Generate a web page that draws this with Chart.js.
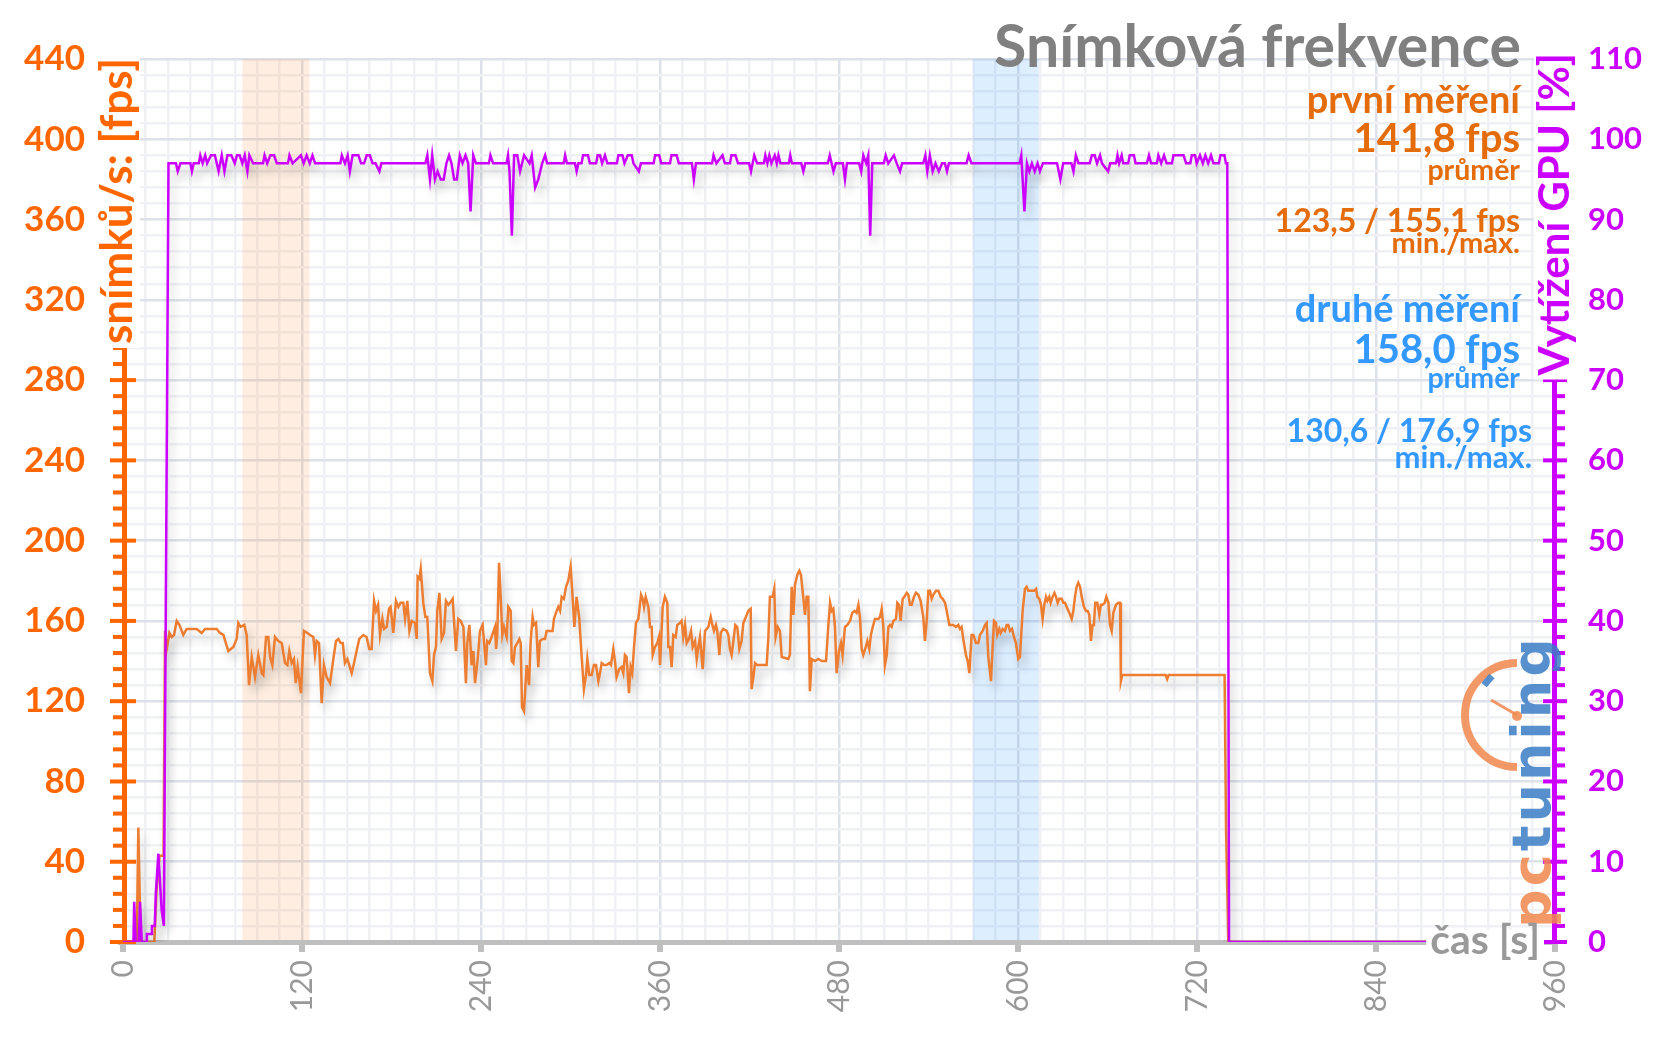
<!DOCTYPE html>
<html>
<head>
<meta charset="utf-8">
<script src="https://cdn.jsdelivr.net/npm/chart.js@4.4.1/dist/chart.umd.min.js"></script>
<style>
  html, body { margin: 0; padding: 0; background: #fff; }
</style>
</head>
<body>
<canvas id="mycanvas" width="1656" height="1044"></canvas>
<script>
// snímková frekvence [s, fps]
var fpsSamples = [
  [0,0],[9.2,0],[10.3,57],[11.8,0],[21,0],[22.5,26],[24.5,43],[27.2,43],[28.2,155],[29.3,146],
  [31.1,154],[32.6,152],[34.2,153],[36.0,160],[37.8,158],[40.4,153],[42.7,156],[46.0,156],[49.4,156],[52.7,154],
  [55.0,156],[58.3,156],[62.8,156],[65.0,154],[67.3,153],[70.6,145],[74.0,147],[76.2,151],[77.3,159],[78.9,157],
  [81.3,158],[82.9,153],[84.5,128],[86.3,142],[88.5,132],[90.7,143],[93.0,134],[94.1,133],[95.9,152],[97.4,152],
  [98.6,142],[100.1,138],[101.9,152],[104.1,150],[106.4,149],[108.6,139],[110.2,138],[111.5,145],[113.1,139],[114.6,141],
  [115.8,129],[117.1,137],[119.3,124],[121.3,155],[123.6,154],[125.4,153],[127.6,152],[128.7,143],[129.8,150],[131.4,149],
  [133.2,119],[134.7,138],[136.5,132],[138.8,129],[141.0,141],[142.8,150],[144.4,151],[145.9,149],[147.3,149],[148.8,139],
  [150.4,141],[151.7,138],[153.3,134],[154.9,139],[156.6,145],[158.4,151],[161.1,153],[163.3,152],[165.1,146],[166.7,146],
  [168.3,170],[169.6,165],[171.0,168],[172.3,153],[173.9,161],[175.0,156],[176.8,157],[178.3,166],[179.4,167],[181.2,154],
  [183.0,170],[184.6,167],[186.1,169],[187.9,169],[189.1,161],[190.6,170],[192.0,155],[193.5,160],[195.8,159],[196.9,151],
  [197.5,182],[198.7,181],[199.6,186],[201.3,169],[202.7,162],[204.0,162],[205.8,134],[207.4,130],[208.5,143],[209.8,147],
  [210.7,165],[212.1,174],[213.6,151],[215.2,154],[216.5,170],[218.1,168],[219.2,169],[221.0,171],[223.2,145],[224.8,161],
  [226.4,160],[228.2,157],[229.9,129],[230.8,149],[232.2,158],[233.7,138],[234.9,145],[236.0,129],[237.8,141],[239.3,155],
  [241.1,158],[243.3,138],[244.2,150],[245.6,149],[247.1,152],[249.4,157],[250.1,146],[250.9,153],[252.1,189],[253.2,172],
  [254.3,153],[255.4,157],[257.2,152],[258.3,167],[259.9,165],[260.6,140],[261.7,139],[262.8,147],[264.4,149],[265.7,151],
  [266.6,149],[267.5,117],[268.8,115],[270.6,138],[272.2,128],[273.3,150],[274.6,162],[275.5,158],[276.9,159],[278.4,137],
  [279.5,150],[281.3,151],[282.9,151],[284.0,155],[288.0,155],[288.9,161],[290.7,165],[291.8,167],[293.0,165],[294.1,172],
  [295.6,171],[297.0,177],[298.5,180],[300.1,187],[301.4,172],[302.6,157],[304.1,172],[305.9,161],[307.5,142],[309.0,126],
  [310.4,133],[311.3,141],[312.6,133],[314.2,133],[315.7,138],[317.1,138],[318.7,130],[319.8,134],[320.9,139],[322.5,138],
  [324.2,138],[326.0,139],[327.1,138],[328.7,146],[329.8,140],[330.9,132],[332.7,136],[334.3,137],[335.4,134],[336.5,143],
  [337.6,142],[339.2,124],[340.3,137],[341.4,134],[342.6,147],[343.9,159],[345.5,161],[347.3,173],[348.4,171],[349.3,167],
  [350.4,172],[352.2,167],[353.3,157],[354.4,157],[355.1,143],[356.6,147],[358.2,149],[359.3,152],[360.0,138],[361.8,167],
  [363.3,172],[364.9,169],[365.6,147],[366.7,147],[367.8,137],[368.9,153],[370.5,152],[371.6,158],[373.4,159],[374.5,160],
  [375.6,152],[376.8,158],[377.9,149],[379.4,151],[380.8,155],[381.9,147],[383.5,150],[384.6,141],[385.7,147],[386.8,152],
  [388.6,136],[390.2,155],[392.4,157],[394.0,162],[395.1,158],[396.2,155],[397.5,158],[398.4,155],[399.8,143],[400.7,154],
  [402.4,156],[404.7,155],[405.8,153],[406.9,146],[408.0,143],[409.2,150],[410.5,158],[411.8,157],[413.2,146],[414.7,150],
  [415.9,159],[417.6,162],[419.2,165],[420.8,166],[421.4,126],[422.6,132],[423.7,139],[425.2,138],[431.5,138],[432.6,151],
  [433.7,172],[435.5,172],[436.6,176],[437.5,152],[438.9,157],[440.4,155],[441.6,142],[446.0,141],[447.1,143],[448.3,177],
  [449.4,163],[450.5,178],[452.1,183],[453.4,185],[454.5,183],[455.6,175],[457.2,163],[458.3,172],[459.4,172],[460.5,125],
  [461.7,141],[463.9,140],[466.1,141],[468.4,140],[471.3,140],[472.8,157],[474.0,169],[475.1,165],[476.2,166],[477.3,157],
  [478.4,134],[480.0,145],[481.3,149],[482.4,143],[484.0,157],[485.6,158],[487.4,160],[488.9,164],[490.3,165],[491.8,164],
  [493.0,168],[494.1,161],[495.2,146],[496.3,143],[497.9,147],[499.0,150],[500.3,146],[501.4,153],[502.6,157],[504.1,161],
  [506.4,161],[507.5,162],[508.6,166],[509.7,157],[510.8,138],[512.0,143],[513.1,157],[514.2,158],[515.3,157],[516.4,160],
  [518.2,161],[519.1,169],[520.2,168],[521.3,160],[522.7,171],[523.8,172],[525.4,174],[526.5,173],[527.6,168],[528.7,168],
  [530.3,172],[531.6,174],[533.2,173],[534.7,170],[536.5,162],[537.6,150],[538.8,160],[539.9,175],[541.0,175],[542.1,171],
  [543.2,173],[545.0,175],[546.6,175],[548.2,172],[549.5,171],[551.1,169],[552.2,165],[554.0,158],[555.1,158],[556.6,158],
  [558.4,157],[560.0,158],[561.1,156],[562.2,157],[563.3,151],[565.1,143],[566.3,140],[567.4,134],[568.9,153],[570.1,153],
  [571.8,149],[573.4,149],[574.5,153],[576.3,155],[577.9,158],[579.0,159],[580.1,142],[581.9,130],[583.0,147],[583.9,160],
  [585.2,159],[586.1,153],[587.5,156],[588.4,154],[589.7,156],[591.3,155],[592.4,158],[593.5,158],[594.6,155],[596.0,156],
  [597.3,152],[598.6,149],[600.2,141],[601.3,142],[603.1,165],[604.7,176],[605.8,177],[606.9,175],[609.1,175],[610.7,175],
  [612.1,176],[613.0,172],[614.3,171],[615.4,168],[616.5,161],[617.6,168],[618.8,172],[619.7,170],[621.0,172],[621.9,169],
  [623.2,172],[624.4,174],[625.5,172],[626.6,169],[627.7,171],[629.3,171],[630.4,169],[631.5,169],[632.6,167],[634.4,164],
  [636.0,161],[637.1,165],[638.2,172],[639.3,177],[640.4,179],[641.6,177],[642.7,172],[644.2,167],[645.6,165],[646.7,165],
  [647.8,163],[648.9,150],[650.0,158],[650.9,158],[651.8,169],[653.2,169],[654.5,163],[655.6,168],[656.7,168],[658.1,169],
  [659.2,172],[660.6,169],[661.7,158],[662.8,155],[663.9,164],[665.7,168],[667.3,169],[668.4,169],[669.0,130],[669.9,133],
  [699.0,133],[700.0,131],[701.0,133],[738.5,133],[739.5,56],[741.0,0],[877.0,0]
];

// vytížení GPU [s, %]
var gpuSamples = [
  [0,0],[7.0,0],[7.5,5],[8.5,0],[10.6,0],[11.4,5],[12.6,0],[15.6,0],[16.0,1],[19.0,1],
  [19.4,2],[21.3,2],[22.0,6],[23.7,11],[25.9,4],[27.4,2],[30.5,97],[35.5,97],[36.7,96],[38.5,97],
  [45.2,97],[46.2,96],[47.4,97],[50.8,97],[51.8,98],[53.4,97],[55.1,98],[56.4,97],[59.0,98],[61.6,98],
  [64.1,96],[66.2,98],[68.0,96],[70.0,98],[72.6,98],[74.9,97],[76.4,98],[78.2,98],[80.0,97],[81.6,98],
  [83.4,96],[84.7,98],[87.2,97],[93.9,97],[94.9,98],[96.7,97],[98.8,98],[101.3,98],[103.1,97],[110.6,97],
  [111.6,98],[113.7,97],[119.3,98],[121.1,97],[123.1,98],[125.2,97],[127.0,98],[128.8,97],[145.7,97],[146.7,98],
  [148.8,97],[150.6,98],[152.1,96],[153.9,98],[157.8,98],[159.6,97],[161.6,97],[163.4,98],[165.5,98],[167.3,97],
  [169.3,97],[171.9,96],[173.2,97],[202.7,97],[204.0,98],[205.8,95],[207.3,98],[209.1,95],[210.9,96],[213.0,95],
  [215.0,95],[216.8,97],[218.6,98],[220.2,97],[222.0,95],[223.8,95],[225.8,98],[227.6,97],[229.6,98],[231.4,97],
  [233.0,91],[234.8,98],[236.6,97],[245.3,97],[246.3,98],[248.1,97],[257.1,97],[258.1,98],[259.1,96],[260.7,88],
  [262.2,98],[264.3,98],[266.2,96],[268.9,98],[272.5,97],[274.0,98],[276.3,94],[278.4,95],[281.0,97],[283.0,98],
  [284.3,97],[295.4,97],[296.4,98],[297.6,97],[303.0,97],[304.1,96],[305.3,97],[307.4,97],[308.4,98],[311.7,98],
  [313.0,97],[317.2,97],[318.2,98],[319.8,98],[321.2,97],[323.1,98],[324.7,97],[331.1,97],[332.1,98],[334.8,98],
  [336.2,97],[338.4,98],[341.1,98],[342.2,97],[345.8,96],[347.2,97],[355.7,97],[356.7,98],[359.5,98],[360.8,97],
  [366.7,97],[367.7,98],[371.2,98],[372.6,97],[381.4,97],[382.7,95],[384.1,97],[394.9,97],[395.9,98],[397.8,97],
  [401.9,98],[403.5,97],[406.9,97],[407.9,98],[410.6,98],[412.3,97],[419.7,97],[421.0,96],[423.2,98],[425.1,97],
  [429.6,97],[430.6,98],[432.0,97],[433.3,98],[434.7,97],[436.9,98],[438.3,97],[439.4,98],[440.7,97],[446.3,97],
  [447.3,98],[448.4,97],[454.7,97],[456.1,96],[457.4,97],[472.5,97],[473.8,98],[476.3,96],[477.9,97],[482.6,97],
  [484.0,95],[485.3,97],[493.5,97],[494.9,96],[496.3,98],[498.2,97],[499.6,98],[500.9,88],[502.3,97],[510.0,97],
  [511.3,98],[513.0,97],[516.8,98],[518.7,97],[520.9,96],[522.3,97],[536.5,97],[537.9,98],[539.2,96],[540.9,98],
  [542.8,96],[544.7,97],[546.9,96],[549.1,97],[551.0,97],[552.4,96],[553.7,97],[565.5,97],[566.9,98],[568.8,97],
  [601.1,97],[602.2,98],[604.3,91],[606.0,97],[607.6,96],[609.3,97],[611.2,96],[613.1,97],[614.7,96],[616.7,97],
  [626.2,97],[628.4,95],[630.3,97],[635.8,97],[637.2,96],[638.8,98],[640.5,97],[648.1,97],[649.5,98],[651.4,98],
  [653.0,97],[655.0,98],[656.3,97],[660.4,96],[661.8,97],[665.7,97],[666.7,98],[667.8,97],[669.5,98],[670.5,97],
  [673.9,97],[674.9,98],[677.7,98],[678.8,97],[686.4,97],[687.8,98],[689.2,97],[693.1,97],[694.1,98],[696.0,97],
  [697.9,98],[699.6,97],[703.2,97],[704.2,98],[711.0,98],[712.7,97],[715.5,97],[716.5,98],[718.7,98],[719.8,97],
  [722.0,98],[723.9,97],[725.6,98],[727.5,97],[729.4,98],[731.0,97],[734.7,97],[735.7,98],[738.4,98],[739.4,97],
  [740.3,97],[741.5,0],[877.0,0]
];

var timeTicks = [0, 120, 240, 360, 480, 600, 720, 840, 960];
var fpsTicks = [0, 40, 80, 120, 160, 200, 240, 280, 320, 360, 400, 440];
var gpuTicks = [0, 10, 20, 30, 40, 50, 60, 70, 80, 90, 100, 110];

// measured sections [s]
var firstRun = [80, 125];
var secondRun = [570, 614];

var firstRunText = ['první měření', '141,8 fps', 'průměr', '123,5 / 155,1 fps', 'min./max.'];
var secondRunText = ['druhé měření', '158,0 fps', 'průměr', '130,6 / 176,9 fps', 'min./max.'];

var FONT = 'Lato';
var ORANGE = '#ff6600';
var MAGENTA = '#cc00ff';

function gridColor(major) {
  return function(c) {
    if (c.tick && c.tick.value % major === 0) return '#dde1e9';
    return '#f0f1f5';
  };
}

function drawAxes(chart) {
  var ctx = chart.ctx, a = chart.chartArea;
  var x = chart.scales.x, y = chart.scales.y, y1 = chart.scales.y1;
  var i, py, px;
  ctx.save();
  // time axis
  ctx.fillStyle = '#bfbfbf';
  ctx.fillRect(118, a.bottom - 2, a.right - 118, 5);
  for (i = 0; i < timeTicks.length; i++) {
    px = x.getPixelForValue(timeTicks[i]);
    ctx.fillRect(px - 3, a.bottom, 6, 10);
  }
  // fps axis
  ctx.fillStyle = ORANGE;
  ctx.fillRect(a.left - 1, a.top - 2, 5, a.bottom - a.top + 4);
  for (i = 0; i <= 440; i += 8) {
    py = y.getPixelForValue(i);
    if (i % 40 === 0) ctx.fillRect(a.left - 13, py - 2, 26, 4);
    else ctx.fillRect(a.left - 10, py - 2, 10, 4);
  }
  // gpu axis
  ctx.fillStyle = MAGENTA;
  ctx.fillRect(a.right - 3, a.top - 2, 5, a.bottom - a.top + 4);
  for (i = 0; i <= 110; i += 2) {
    py = y1.getPixelForValue(i);
    if (i % 10 === 0) ctx.fillRect(a.right - 12, py - 2, 24, 4);
    else ctx.fillRect(a.right, py - 2, 10, 4);
  }
  ctx.restore();
}

function vertTitle(ctx, s, cx, topY, color, size) {
  ctx.save();
  ctx.translate(cx, topY);
  ctx.rotate(-Math.PI / 2);
  ctx.font = 'bold ' + size + 'px ' + FONT;
  ctx.textAlign = 'right';
  ctx.textBaseline = 'middle';
  var w = ctx.measureText(s).width;
  ctx.fillStyle = '#fff';
  ctx.fillRect(-w - 4, -size * 0.5, w + 8, size * 1.0);
  ctx.fillStyle = color;
  ctx.fillText(s, 0, 0);
  ctx.restore();
}

function drawLines(ctx, lines, x, ys, color) {
  ctx.save();
  ctx.textAlign = 'right';
  ctx.textBaseline = 'alphabetic';
  ctx.fillStyle = color;
  for (var i = 0; i < lines.length; i++) {
    ctx.font = 'bold ' + lines[i].size + 'px ' + FONT;
    ctx.fillText(lines[i].text, lines[i].x || x, ys[i]);
  }
  ctx.restore();
}

function drawLogo(ctx) {
  ctx.save();
  ctx.globalAlpha = 0.85;
  ctx.strokeStyle = '#f0874c';
  ctx.lineWidth = 8;
  ctx.beginPath();
  ctx.arc(1517, 715, 52, Math.PI * 0.5, Math.PI * 1.5);
  ctx.stroke();
  ctx.lineWidth = 3;
  ctx.beginPath();
  ctx.moveTo(1491, 700);
  ctx.lineTo(1517, 715);
  ctx.stroke();
  ctx.fillStyle = '#f0874c';
  ctx.beginPath();
  ctx.arc(1517, 716, 5, 0, Math.PI * 2);
  ctx.fill();
  ctx.strokeStyle = '#3a7cc4';
  ctx.lineWidth = 7;
  ctx.beginPath();
  ctx.moveTo(1484, 685);
  ctx.lineTo(1492, 676);
  ctx.stroke();
  ctx.translate(1550, 928);
  ctx.rotate(-Math.PI / 2);
  ctx.font = 'bold 54px "DejaVu Sans"';
  ctx.letterSpacing = '3px';
  ctx.textAlign = 'left';
  ctx.textBaseline = 'alphabetic';
  ctx.fillStyle = '#f0874c';
  ctx.fillText('pc', 0, 0);
  var w = ctx.measureText('pc').width;
  ctx.fillStyle = '#3a7cc4';
  ctx.fillText('tuning', w, 0);
  ctx.restore();
}

var decor = {
  id: 'decor',
  beforeDatasetsDraw: function(chart) {
    var ctx = chart.ctx, a = chart.chartArea, x = chart.scales.x;
    ctx.save();
    var l = x.getPixelForValue(firstRun[0]), r = x.getPixelForValue(firstRun[1]);
    ctx.fillStyle = 'rgba(247,150,70,0.17)';
    ctx.fillRect(l, a.top, r - l, a.bottom - a.top);
    l = x.getPixelForValue(secondRun[0]);
    r = x.getPixelForValue(secondRun[1]);
    ctx.fillStyle = 'rgba(51,153,255,0.17)';
    ctx.fillRect(l, a.top, r - l, a.bottom - a.top);
    ctx.restore();
    drawAxes(chart);
  },
  beforeDatasetDraw: function(chart) {
    var ctx = chart.ctx;
    ctx.save();
    ctx.shadowColor = 'rgba(0,0,0,0.22)';
    ctx.shadowBlur = 10;
    ctx.shadowOffsetX = 4;
    ctx.shadowOffsetY = 8;
  },
  afterDatasetDraw: function(chart) {
    chart.ctx.restore();
  },
  afterDraw: function(chart) {
    var ctx = chart.ctx;
    drawLogo(ctx);

    vertTitle(ctx, 'snímků/s: [fps]', 118, 58, ORANGE, 44);
    vertTitle(ctx, 'Vytížení GPU [%]', 1555, 53, MAGENTA, 42);

    // čas [s]
    ctx.save();
    ctx.font = 'bold 41px ' + FONT;
    ctx.textAlign = 'right';
    ctx.textBaseline = 'alphabetic';
    var w = ctx.measureText('čas [s]').width;
    ctx.fillStyle = '#fff';
    ctx.fillRect(1540 - w - 4, 930, w + 8, 24);
    ctx.fillStyle = '#999999';
    ctx.fillText('čas [s]', 1540, 954);
    ctx.restore();

    // title
    ctx.save();
    ctx.font = 'bold 59px ' + FONT;
    ctx.textAlign = 'right';
    ctx.fillStyle = '#808080';
    ctx.fillText('Snímková frekvence', 1521, 67);
    ctx.restore();

    drawLines(ctx, [
      { text: firstRunText[0], size: 38 },
      { text: firstRunText[1], size: 40 },
      { text: firstRunText[2], size: 28.5 },
      { text: firstRunText[3], size: 32 },
      { text: firstRunText[4], size: 29 }
    ], 1520, [113, 152, 180, 232, 253], '#e46c0a');
    drawLines(ctx, [
      { text: secondRunText[0], size: 38 },
      { text: secondRunText[1], size: 40 },
      { text: secondRunText[2], size: 28.5 },
      { text: secondRunText[3], size: 32, x: 1532 },
      { text: secondRunText[4], size: 31, x: 1532 }
    ], 1520, [322, 363, 388, 442, 468], '#3399ff');
  }
};

var ctx = document.getElementById('mycanvas');

var chart = new Chart(ctx, {
  type: 'line',
  data: {
    datasets: [
      {
        label: 'Vytížení GPU',
        data: gpuSamples.map(function(p) { return { x: p[0], y: p[1] }; }),
        yAxisID: 'y1',
        borderColor: MAGENTA,
        borderWidth: 2.5,
        pointRadius: 0,
        tension: 0
      },
      {
        label: 'fps',
        data: fpsSamples.map(function(p) { return { x: p[0], y: p[1] }; }),
        yAxisID: 'y',
        borderColor: '#ed7d31',
        borderWidth: 2.5,
        pointRadius: 0,
        tension: 0
      }
    ]
  },
  options: {
    responsive: false,
    animation: false,
    devicePixelRatio: 1,
    layout: { padding: { top: 56, left: 0, right: 0, bottom: 0 } },
    plugins: { legend: { display: false }, tooltip: { enabled: false } },
    scales: {
      x: {
        type: 'linear',
        min: 0,
        max: 960,
        afterFit: function(s) { s.height = 102; },
        ticks: {
          stepSize: 15,
          autoSkip: false,
          maxRotation: 90,
          minRotation: 90,
          padding: 18,
          color: '#999999',
          font: { family: FONT, size: 30 },
          callback: function(v) { return timeTicks.indexOf(v) >= 0 ? String(v) : ''; }
        },
        grid: { color: gridColor(120), lineWidth: 2.5, drawTicks: false },
        border: { display: false }
      },
      y: {
        position: 'left',
        min: 0,
        max: 440,
        afterFit: function(s) { s.width = 123; },
        ticks: {
          stepSize: 8,
          autoSkip: false,
          padding: 38,
          color: ORANGE,
          font: { family: FONT, size: 35, weight: 'bold' },
          callback: function(v) { return fpsTicks.indexOf(v) >= 0 ? String(v) : ''; }
        },
        grid: { color: gridColor(40), lineWidth: 2.5, drawTicks: false },
        border: { display: false }
      },
      y1: {
        position: 'right',
        min: 0,
        max: 110,
        afterFit: function(s) { s.width = 101; },
        ticks: {
          stepSize: 10,
          autoSkip: false,
          padding: 33,
          color: MAGENTA,
          font: { family: FONT, size: 31, weight: 'bold' },
          callback: function(v) { return gpuTicks.indexOf(v) >= 0 ? String(v) : ''; }
        },
        grid: { display: false, drawTicks: false },
        border: { display: false }
      }
    }
  },
  plugins: [decor]
});
</script>
</body>
</html>
